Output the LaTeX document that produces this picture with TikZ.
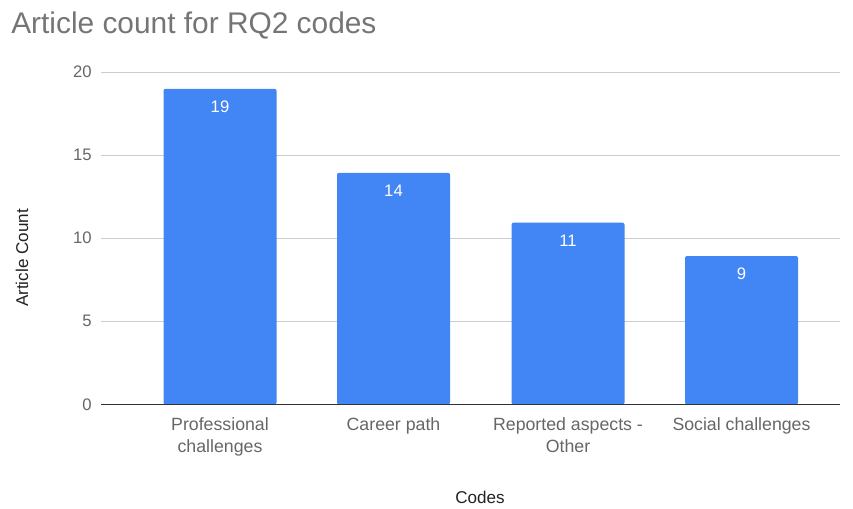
\documentclass[tikz,border=0pt]{standalone}
\usepackage{fontspec}
\setmainfont{Liberation Sans}
\definecolor{bar}{HTML}{4285F4}
\definecolor{titlegray}{HTML}{757575}
\definecolor{ticks}{HTML}{666666}
\definecolor{grid}{HTML}{CCCCCC}
\definecolor{axis}{HTML}{333333}
\definecolor{axtitle}{HTML}{222222}
\tikzset{
  barbox/.style={fill=bar, draw=none, rounded corners=1.5pt},
  vallabel/.style={text=white, font=\fontsize{12.5}{14}\selectfont, anchor=center},
  ticklabel/.style={text=ticks, font=\fontsize{12.5}{14}\selectfont, anchor=east, inner sep=0pt},
  catlabel/.style={text=ticks, font=\fontsize{13.3}{16.5}\selectfont, align=center, anchor=north, inner sep=0pt},
  axtitlelabel/.style={text=axtitle, font=\fontsize{12.8}{14}\selectfont, inner sep=0pt},
  gridline/.style={draw=grid, line width=0.75pt},
}
\begin{document}
\begin{tikzpicture}[x=0.75pt,y=-0.75pt]
\useasboundingbox (0,0) rectangle (853,508);
\node[text=titlegray, font=\fontsize{22.4}{26}\selectfont, anchor=west, inner sep=0pt] (title) at (11,25) {Article count for RQ2 codes};
% grid
\foreach \v/\yy in {5/321,10/238,15/155,20/72} {
  \coordinate (gl\v) at (101,\yy);
  \coordinate (gr\v) at (840,\yy);
  \draw[gridline] (gl\v) -- (gr\v);
}
\foreach \v/\yy in {0/404.5,5/321,10/238,15/155,20/72} {
  \node[ticklabel] (t\v) at (92,\yy) {\v};
}
% bars
\foreach \i/\xa/\xb/\top/\val in {1/163.5/276.5/88.8/19, 2/337/450/172.8/14, 3/511.5/624.5/222.7/11, 4/685/798/256/9} {
  \path[barbox] (\xa,404.5) -- (\xa,\top) -- (\xb,\top) -- (\xb,404.5) -- cycle;
  \node[vallabel] (v\i) at ({(\xa+\xb)/2},{\top+18}) {\val};
}
\coordinate (bl) at (101,404.5);
\coordinate (br) at (840,404.5);
\draw[draw=axis, line width=0.9pt] (bl) -- (br);
% categories
\node[catlabel] (c1) at (220,417.5) {Professional\\challenges};
\node[catlabel] (c2) at (393.5,417.5) {Career path};
\node[catlabel] (c3) at (568,417.5) {Reported aspects -\\Other};
\node[catlabel] (c4) at (741.5,417.5) {Social challenges};
% axis titles
\node[axtitlelabel] (xt) at (480,497) {Codes};
\node[axtitlelabel, rotate=90] (yt) at (22,258) {Article Count};
\end{tikzpicture}
\end{document}
